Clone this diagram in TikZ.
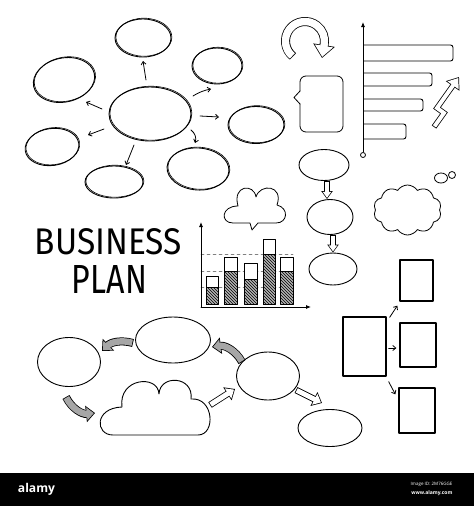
\documentclass[tikz,border=0pt]{standalone}
\usepackage{fontspec}
\usepackage{graphicx}
\newfontfamily\handfont{Fira Sans}
\newfontfamily\logofont{Open Sans}
\usetikzlibrary{shapes.geometric,shapes.symbols,arrows.meta,patterns,calc}

\tikzset{
  bubble/.style 2 args={ellipse, draw, line width=0.9pt, inner sep=0pt, minimum width=#1, minimum height=#2},
  sketch/.style={postaction={draw, line width=0.6pt, transform canvas={shift={(0.9pt,0.8pt)}}}},
  box/.style 2 args={rectangle, draw, line width=1.3pt, inner sep=0pt, minimum width=#1, minimum height=#2},
  fatarrow/.style n args={5}{line width=#1, line cap=butt, line join=miter, -{Triangle[length=#2,width=#3]},
    postaction={draw=#5, line width=#1-1.6pt, shorten <=0.8pt, shorten >=1.2pt, -{Triangle[length=#2,width=#3,scale=#4]}}},
  hollow/.style n args={4}{fatarrow={#1}{#2}{#3}{#4}{white}},
  hatched/.style n args={4}{fatarrow={#1}{#2}{#3}{#4}{gray!70}},
  thinarrow/.style={->, line width=0.8pt},
}

\begin{document}
\begin{tikzpicture}[x=1pt, y=-1pt, line join=round, line cap=round, >={Straight Barb[length=3pt,width=5pt]}]
\useasboundingbox (0,0) rectangle (474,506);

% mind map
\node[bubble={82}{54}, sketch] (mc) at (150,114) {};
\node[bubble={56}{38}, sketch] (mt) at (143,38) {};
\node[bubble={50}{36}, sketch] (mtr) at (217,66) {};
\node[bubble={62}{44}, sketch, rotate=12] (mtl) at (64,80) {};
\node[bubble={56}{37}, sketch] (mr) at (256,125) {};
\node[bubble={54}{37}, sketch, rotate=8] (mbl) at (52,147) {};
\node[bubble={58}{32}, sketch] (mb) at (114,182) {};
\node[bubble={62}{42}, sketch, rotate=-4] (mbr) at (198,169) {};
\draw[thinarrow] ([shift={(-4,-34)}]mc.center) -- ([shift={(0,23)}]mt.center);
\draw[thinarrow] ([shift={(43,-18)}]mc.center) to[bend left=10] ([shift={(-6,23)}]mtr.center);
\draw[thinarrow] ([shift={(50,2)}]mc.center) -- ([shift={(-37,-8)}]mr.center);
\draw[thinarrow] ([shift={(41,16)}]mc.center) to[bend left=35] ([shift={(-3,-26)}]mbr.center);
\draw[thinarrow] ([shift={(-16,31)}]mc.center) -- ([shift={(12,-17)}]mb.center);
\draw[thinarrow] ([shift={(-46,15)}]mc.center) -- ([shift={(36,-12)}]mbl.center);
\draw[thinarrow] ([shift={(-48,-5)}]mc.center) -- ([shift={(22,22)}]mtl.center);

% u-turn and zigzag arrows
\coordinate (uc) at (305,41);
\draw[hollow={9pt}{13pt}{21pt}{0.85}] ($(uc)+(128:19.5)$) arc[start angle=128, end angle=370, radius=19.5] -- (322,58);
\draw[hollow={5.5pt}{11pt}{16pt}{0.82}] (434,127) -- (444,113) -- (437,108) -- (459,77);

% speech box
\draw[line width=0.8pt, rounded corners=6] (300,97) -- (300,132) -- (343,132) -- (343,76) -- (300,76) -- cycle;
\fill[white] (301,91) -- (294,97.5) -- (301,104) -- cycle;
\draw[line width=0.8pt] (300,91) -- (294,97.5) -- (300,104);

% horizontal bars
\draw[line width=0.8pt, -{Latex[length=5pt,width=4pt]}] (363,152) -- (363,22);
\draw[line width=0.8pt] (363,155) circle (2.5);
\foreach \t/\b/\r in {45/61/453, 73/86/432, 99/111/423, 124/139/406}
  \draw[line width=0.9pt, rounded corners=2.5] (364,\t) -| (\r,\b) -- (364,\b);

% flow column
\node[bubble={50}{31}] (f1) at (324,165) {};
\node[bubble={46}{35}] (f2) at (330,217) {};
\node[bubble={48}{32}] (f3) at (333,269) {};
\draw[hollow={5.5pt}{8pt}{11pt}{0.75}] ([shift={(3,0)}]f1.south) -- ([shift={(-3,0)}]f2.north);
\draw[hollow={5.5pt}{8pt}{11pt}{0.75}] ([shift={(3,0)}]f2.south) -- (f3.north);

% speech cloud
\draw[line width=0.8pt] (276,223) -- (258,223) -- (252,230) -- (250,223) -- (233,223)
  .. controls (220,223) and (221,206) .. (238,206)
  .. controls (232,185) and (254,183) .. (256,197)
  .. controls (260,183) and (284,185) .. (277,205)
  .. controls (289,208) and (288,223) .. (276,223);

% thought cloud
\node[cloud, cloud puffs=10, cloud puff arc=115, draw, line width=0.8pt, aspect=1.3, minimum width=68, minimum height=50, inner sep=0pt] (tc) at (407.5,210) {};
\node[ellipse, draw, line width=0.8pt, minimum width=13, minimum height=10, inner sep=0pt] (tb1) at (441,178) {};
\node[circle, draw, line width=0.8pt, minimum size=7, inner sep=0pt] (tb2) at (452,175) {};

% title
\node (biz) at (108.5,242) {\resizebox{147pt}{26pt}{\handfont BUSINESS}};
\node (plan) at (109.5,279) {\resizebox{75pt}{28pt}{\handfont PLAN}};

% column chart
\foreach \y in {254,271,287}
  \draw[line width=0.5pt, dashed, gray] (201,\y) -- (293,\y);
\foreach \l/\r/\t/\m in {206/218/276/287, 224/237/257/271, 244/257/263/279, 263/275/239/254, 280/293/257/271}{
  \draw[line width=0.9pt, fill=white] (\l,\t) rectangle (\r,\m);
  \draw[line width=0.9pt, preaction={fill=gray!60}, pattern=north west lines] (\l,\m) rectangle (\r,304);
}
\draw[line width=0.8pt, -{Latex[length=5pt,width=4pt]}] (201,307) -- (201,222);
\draw[line width=0.8pt, -{Latex[length=5pt,width=4pt]}] (201,307) -- (311,307);

% cycle
\node[bubble={63}{49}] (oA) at (69,362) {};
\node[bubble={75}{46}] (oB) at (173,340) {};
\node[bubble={63}{48}] (oC) at (268,376) {};
\node[bubble={64}{37}] (oD) at (330,428) {};
\draw[line width=0.9pt] (113,435) .. controls (95,435) and (94,408) .. (122,407)
  .. controls (118,378) and (158,374) .. (159,394)
  .. controls (160,374) and (194,376) .. (191,399)
  .. controls (214,397) and (216,435) .. (198,435) -- cycle;
\coordinate (cloudR) at (210,405);
\coordinate (cloudL) at (95,413);
\draw[hatched={8pt}{9pt}{16pt}{0.78}] ([shift={(-40,3)}]oB.center) to[bend right=30] ([shift={(33,-11)}]oA.center);
\draw[hatched={8pt}{9pt}{16pt}{0.78}] ([shift={(-3,35)}]oA.center) to[bend right=35] (cloudL);
\draw[hatched={8pt}{9pt}{16pt}{0.78}] ([shift={(-26,-14)}]oC.center) to[bend right=35] ([shift={(39,7)}]oB.center);
\draw[hollow={6.5pt}{9pt}{15pt}{0.78}] (cloudR) -- ([shift={(-33,13)}]oC.center);
\draw[hollow={6.5pt}{9pt}{15pt}{0.78}] ([shift={(28,14)}]oC.center) -- ([shift={(-8,-25)}]oD.center);

% boxes
\node[box={43}{59}] (rb) at (364.5,346.5) {};
\node[box={33}{41}] (r1) at (416.5,280.5) {};
\node[box={36}{44}] (r2) at (418,345) {};
\node[box={36}{45}] (r3) at (417,410.5) {};
\draw[thinarrow] ([shift={(3,1)}]rb.north east) -- ([shift={(-2,4)}]r1.south west);
\draw[thinarrow] ([shift={(2,1.5)}]rb.east) -- ([shift={(-3,3)}]r2.west);
\draw[thinarrow] ([shift={(2,5)}]rb.south east) -- ([shift={(-3,7)}]r3.north west);

% footer
\fill[black] (0,473) rectangle (474,506);
\node[text=white, font=\logofont\bfseries] (logo) at (36.5,489) {\resizebox{37pt}{!}{alamy}};
\node[text=white, font=\logofont\fontsize{4.5}{5}\selectfont, anchor=east] (imgid) at (456,484) {Image ID: 2M76GGE};
\node[text=white, font=\logofont\bfseries\fontsize{5}{6}\selectfont, anchor=east] (www) at (456,493.5) {www.alamy.com};
\end{tikzpicture}
\end{document}
